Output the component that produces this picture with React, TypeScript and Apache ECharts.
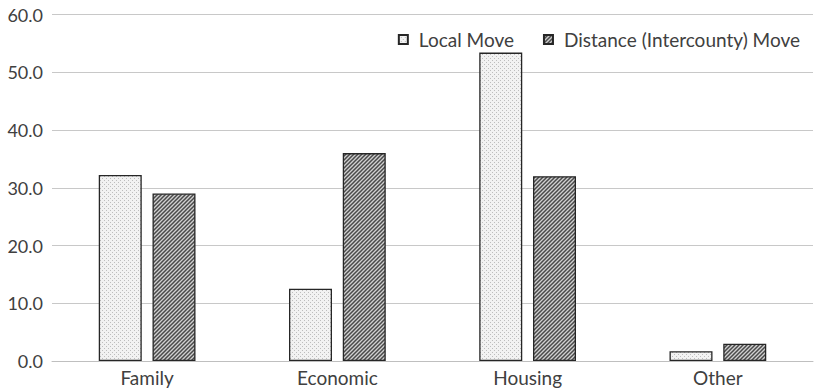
import React, { useEffect, useRef } from "react";
import * as echarts from "echarts";

const categories = ["Family", "Economic", "Housing", "Other"];
const localMove = [32.2, 12.5, 53.4, 1.7];
const distanceMove = [29.0, 36.0, 32.0, 3.0];
const seriesNames = ["Local Move", "Distance (Intercounty) Move"];

const FONT = "Lato, 'Open Sans', sans-serif";
const FONT_SIZE = 19;

// Fine dot texture for the local-move bars
function dotPattern(): HTMLCanvasElement {
  const c = document.createElement("canvas");
  c.width = 4;
  c.height = 4;
  const ctx = c.getContext("2d")!;
  ctx.fillStyle = "#f2f2f2";
  ctx.fillRect(0, 0, 4, 4);
  ctx.fillStyle = "#bdbdbd";
  ctx.fillRect(0, 0, 1, 1);
  ctx.fillRect(2, 2, 1, 1);
  return c;
}

// Diagonal "////" hatching for the intercounty bars
function hatchPattern(): HTMLCanvasElement {
  const s = 4;
  const c = document.createElement("canvas");
  c.width = s;
  c.height = s;
  const ctx = c.getContext("2d")!;
  ctx.fillStyle = "#d0d0d0";
  ctx.fillRect(0, 0, s, s);
  ctx.strokeStyle = "#4a4a4a";
  ctx.lineWidth = 1.5;
  ctx.beginPath();
  ctx.moveTo(-1, s + 1);
  ctx.lineTo(s + 1, -1);
  ctx.moveTo(-1, 1);
  ctx.lineTo(1, -1);
  ctx.moveTo(s - 1, s + 1);
  ctx.lineTo(s + 1, s - 1);
  ctx.stroke();
  return c;
}

export default function App() {
  const ref = useRef<HTMLDivElement>(null);

  useEffect(() => {
    if (!ref.current) return;
    const chart = echarts.init(ref.current, undefined, { renderer: "svg" });
    const dots = { image: dotPattern(), repeat: "repeat" } as any;
    const hatch = { image: hatchPattern(), repeat: "repeat" } as any;

    chart.setOption({
      animation: false,
      backgroundColor: "#ffffff",
      textStyle: { fontFamily: FONT },
      grid: { left: 52, right: 2, top: 14.5, bottom: 31 },
      legend: {
        data: seriesNames,
        right: 10,
        top: 25,
        itemWidth: 9,
        itemHeight: 9,
        itemGap: 29,
        icon: "rect",
        textStyle: {
          fontFamily: FONT,
          fontSize: FONT_SIZE,
          color: "#404040",
          padding: [0, 0, 0, 6],
        },
      },
      xAxis: {
        type: "category",
        data: categories,
        axisTick: { show: false },
        axisLine: { lineStyle: { color: "#bfbfbf", width: 1 } },
        axisLabel: { fontFamily: FONT, fontSize: FONT_SIZE, color: "#404040", margin: 7 },
      },
      yAxis: {
        type: "value",
        min: 0,
        max: 60,
        interval: 10,
        axisLine: { show: false },
        axisTick: { show: false },
        splitLine: { lineStyle: { color: "#c8c8c8", width: 1 } },
        axisLabel: {
          fontFamily: FONT,
          fontSize: FONT_SIZE - 1,
          color: "#404040",
          margin: 9,
          formatter: (v: number) => v.toFixed(1),
        },
      },
      series: [
        {
          name: seriesNames[0],
          type: "bar",
          data: localMove,
          barWidth: 43,
          barGap: "25%",
          itemStyle: { color: dots, borderColor: "#262626", borderWidth: 1.3 },
        },
        {
          name: seriesNames[1],
          type: "bar",
          data: distanceMove,
          barWidth: 43,
          itemStyle: { color: hatch, borderColor: "#262626", borderWidth: 1.3 },
        },
      ],
    });

    return () => chart.dispose();
  }, []);

  return (
    <div
      ref={ref}
      style={{ position: "fixed", left: 0, top: 0, width: 815, height: 392 }}
    />
  );
}
